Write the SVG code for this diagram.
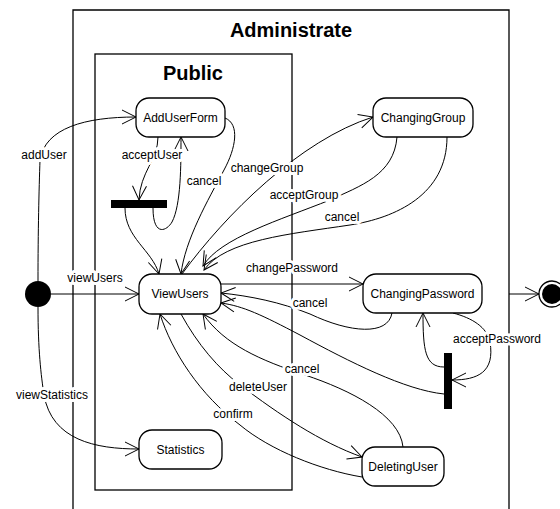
<svg xmlns="http://www.w3.org/2000/svg" width="560" height="509" viewBox="0 0 560 509">
<defs>
<marker id="arr" markerUnits="userSpaceOnUse" markerWidth="16" markerHeight="16" refX="14" refY="7" orient="auto" overflow="visible">
<path d="M0,0 L14,7 L0,14" fill="none" stroke="#000" stroke-width="1"/>
</marker>
<style>
.frame{fill:none;stroke:#000;stroke-width:1.3}
.title{font-family:"Liberation Sans",Arial,sans-serif;font-weight:bold;font-size:20px;text-anchor:middle;fill:#000}
.state{fill:#fff;stroke:#000;stroke-width:1.3}
.name{font-family:"Liberation Sans",Arial,sans-serif;font-size:12px;text-anchor:middle;fill:#000}
.edge{fill:none;stroke:#000;stroke-width:1}
.arrow{marker-end:url(#arr)}
.lbl{font-family:"Liberation Sans",Arial,sans-serif;font-size:12px;text-anchor:middle;fill:#000;stroke:#fff;stroke-width:6;stroke-linejoin:round;paint-order:stroke}
.bar{fill:#000}
</style>
</defs>
<rect width="560" height="509" fill="#fff"/>

<g id="Administrate">
<path class="frame" d="M73,515 L73,10 L509,10 L509,515"/>
<text class="title" x="291" y="37">Administrate</text>
</g>
<g id="Public">
<rect class="frame" x="95" y="54" width="197" height="436"/>
<text class="title" x="193" y="80">Public</text>
</g>

<g id="connectors">
<path class="edge arrow" d="M38,281 C38,230 39,190 40,160 C45,128 85,117 136,117"/>
<path class="edge arrow" d="M51,294 L139,294"/>
<path class="edge arrow" d="M38,307 C38,350 41,375 44,395 C52,440 95,449 139,449"/>
<path class="edge arrow" d="M158,137 C158,160 140,172 139,200"/>
<path class="edge arrow" d="M153,208 C153,236 166,232 172,222 C181,205 181,165 181,137"/>
<path class="edge arrow" d="M125,208 C125,238 152,250 159,274"/>
<path class="edge arrow" d="M225,118 C240,124 236,148 224,170 C208,200 185,240 181,274"/>
<path class="edge arrow" d="M182,274 C225,215 300,140 373,117"/>
<path class="edge arrow" d="M397,137 C394,175 360,186 330,200 C280,220 220,238 203,266"/>
<path class="edge arrow" d="M447,137 C447,195 395,218 350,225 C290,234 225,240 204,270"/>
<path class="edge arrow" d="M221,284 L363,284"/>
<path class="edge arrow" d="M392,313 C388,336 350,333 310,314 C280,302 250,296 221,293"/>
<path class="edge arrow" d="M444,394 C405,390 350,362 300,335 C262,315 243,306 221,303"/>
<path class="edge arrow" d="M453,313 C472,318 487,327 490,342 C495,372 478,380 452,380"/>
<path class="edge arrow" d="M444,367 C425,367 423,350 423,313"/>
<path class="edge arrow" d="M403,447 C400,415 350,390 305,375 C260,360 225,345 203,314"/>
<path class="edge arrow" d="M181,314 C198,345 218,368 240,385 C280,415 320,442 362,457"/>
<path class="edge arrow" d="M362,477 C320,470 270,450 240,425 C200,395 172,352 160,314"/>
<path class="edge arrow" d="M509,294 L539,294"/>
<text class="lbl" x="44" y="159">addUser</text>
<text class="lbl" x="95" y="282">viewUsers</text>
<text class="lbl" x="52" y="399">viewStatistics</text>
<text class="lbl" x="152" y="159">acceptUser</text>
<text class="lbl" x="204" y="185">cancel</text>
<text class="lbl" x="267" y="172">changeGroup</text>
<text class="lbl" x="304" y="199">acceptGroup</text>
<text class="lbl" x="342" y="221">cancel</text>
<text class="lbl" x="292" y="272">changePassword</text>
<text class="lbl" x="310" y="307">cancel</text>
<text class="lbl" x="497" y="343">acceptPassword</text>
<text class="lbl" x="302" y="373">cancel</text>
<text class="lbl" x="258" y="391">deleteUser</text>
<text class="lbl" x="233" y="418">confirm</text>
</g>

<g id="initial"><circle cx="38" cy="294" r="13" fill="#000"/></g>
<g id="final"><circle cx="552" cy="294" r="13" fill="#fff" stroke="#000" stroke-width="1.3"/><circle cx="552" cy="294" r="10" fill="#000"/></g>
<g id="fork1"><rect class="bar" x="111" y="200" width="56" height="8"/></g>
<g id="fork2"><rect class="bar" x="444" y="353" width="8" height="56"/></g>

<g id="AddUserForm"><rect class="state" x="136" y="98" width="89" height="39" rx="13"/><text class="name" x="180.5" y="121.5">AddUserForm</text></g>
<g id="ChangingGroup"><rect class="state" x="373" y="98" width="100" height="39" rx="13"/><text class="name" x="423" y="121.5">ChangingGroup</text></g>
<g id="ViewUsers"><rect class="state" x="139" y="274" width="82" height="40" rx="13"/><text class="name" x="180" y="298">ViewUsers</text></g>
<g id="ChangingPassword"><rect class="state" x="363" y="274" width="119" height="39" rx="13"/><text class="name" x="422.5" y="297.5">ChangingPassword</text></g>
<g id="Statistics"><rect class="state" x="139" y="430" width="83" height="39" rx="13"/><text class="name" x="180.5" y="453.5">Statistics</text></g>
<g id="DeletingUser"><rect class="state" x="362" y="447" width="82" height="39" rx="13"/><text class="name" x="403" y="470.5">DeletingUser</text></g>
</svg>
